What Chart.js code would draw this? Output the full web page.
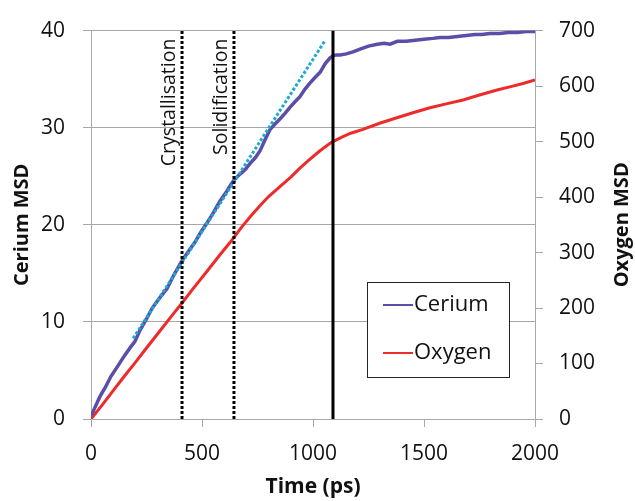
<!DOCTYPE html>
<html>
<head>
<meta charset="utf-8">
<script src="https://cdn.jsdelivr.net/npm/chart.js@4/dist/chart.umd.min.js"></script>
<style>
  html, body { margin: 0; padding: 0; background: #fff; }
  #wrap { width: 635px; height: 501px; }
</style>
</head>
<body>
<div id="wrap"><canvas id="chart" width="635" height="501"></canvas></div>
<script>
// Cerium / Oxygen MSD vs time

const timeTicks = [0, 500, 1000, 1500, 2000];
const ceriumTicks = [0, 10, 20, 30, 40];
const oxygenTicks = [0, 100, 200, 300, 400, 500, 600, 700];

const ceriumTime = [0, 20, 40, 63, 90, 122, 150, 175, 198, 220, 250, 275, 310, 342, 375, 410,
  440, 468, 491, 520, 550, 580, 610, 626, 644, 670, 695, 716, 740, 761, 785, 806, 830, 851, 875,
  896, 920, 941, 965, 986, 1010, 1032, 1055, 1077, 1090, 1105, 1122, 1150, 1180, 1212, 1250, 1290,
  1320, 1347, 1380, 1420, 1460, 1500, 1540, 1572, 1610, 1650, 1690, 1730, 1760, 1797, 1840, 1880,
  1920, 1960, 2000];
const ceriumMsd = [0.3, 1.3, 2.3, 3.2, 4.4, 5.5, 6.5, 7.3, 8.0, 9.1, 10.3, 11.4, 12.5, 13.4, 14.9, 16.3,
  17.3, 18.2, 19.1, 20.1, 21.2, 22.4, 23.4, 24.0, 24.6, 25.2, 25.7, 26.3, 26.9, 27.6, 28.8, 29.8, 30.4, 30.9, 31.5,
  32.1, 32.7, 33.2, 34.0, 34.6, 35.2, 35.7, 36.6, 37.2, 37.4, 37.5, 37.5, 37.6, 37.8, 38.1, 38.4, 38.6,
  38.7, 38.6, 38.9, 38.9, 39.0, 39.1, 39.2, 39.3, 39.3, 39.4, 39.5, 39.6, 39.6, 39.7, 39.7, 39.8,
  39.8, 39.9, 39.9];

const oxygenTime = [0, 50, 100, 150, 200, 250, 311, 360, 410, 460, 520, 581, 626, 660, 685, 720, 760,
  800, 851, 900, 941, 980, 1030, 1077, 1090, 1130, 1170, 1225, 1300, 1378, 1450, 1527, 1600, 1676,
  1750, 1829, 1900, 1950, 2000];
const oxygenMsd = [0, 25, 51, 77, 102, 128, 159, 184, 209, 235, 265, 296, 318, 336, 349, 366, 384,
  401, 419, 436, 452, 466, 483, 497, 500, 508, 515, 522, 533, 543, 552, 561, 568, 575,
  584, 593, 600, 605, 611];

// linear fit to the early cerium curve
const fitTime = [190, 1055];
const fitMsd = [8.3, 39.0];

// event markers (ps)
const eventNames = ['Crystallisation', 'Solidification'];
const eventTimes = [410, 644];
const meltTime = 1090;

const FONT = '"Open Sans", "DejaVu Sans", sans-serif';
const GRID = '#a8a8a8';
const CERIUM_COLOR = '#5a4ea8';
const OXYGEN_COLOR = '#ee2b2b';
const FIT_COLOR = '#1eaad0';

const toPoints = (xs, ys) => xs.map((x, i) => ({ x, y: ys[i] }));
const vLine = t => [{ x: t, y: 0 }, { x: t, y: 40 }];

const datasets = [
  { label: 'Oxygen', data: toPoints(oxygenTime, oxygenMsd), yAxisID: 'y2', borderColor: OXYGEN_COLOR, borderWidth: 3, order: 5 },
  { label: 'Cerium', data: toPoints(ceriumTime, ceriumMsd), yAxisID: 'y', borderColor: CERIUM_COLOR, borderWidth: 3.5, order: 4 },
  { label: 'fit', data: toPoints(fitTime, fitMsd), yAxisID: 'y', borderColor: FIT_COLOR, borderWidth: 3, borderDash: [3, 2], order: 3 },
  ...eventTimes.map(t => ({ label: 'event', data: vLine(t), yAxisID: 'y', borderColor: '#000', borderWidth: 3, borderDash: [3, 2], order: 2 })),
  { label: 'melt', data: vLine(meltTime), yAxisID: 'y', borderColor: '#000', borderWidth: 3, order: 1 }
];

// event labels, custom legend box and the right axis title
const overlayPlugin = {
  id: 'overlay',
  afterDraw(chart) {
    const ctx = chart.ctx;
    const x = chart.scales.x;
    const area = chart.chartArea;
    ctx.save();

    ctx.fillStyle = '#111';
    ctx.font = `19.5px ${FONT}`;
    ctx.textAlign = 'right';
    ctx.textBaseline = 'middle';
    eventNames.forEach((name, i) => {
      ctx.save();
      ctx.translate(x.getPixelForValue(eventTimes[i]) - 13, area.top + 8);
      ctx.rotate(-Math.PI / 2);
      ctx.fillText(name, 0, 0);
      ctx.restore();
    });

    // legend
    const box = { left: 367, top: 282, width: 142, height: 95 };
    ctx.fillStyle = '#fff';
    ctx.fillRect(box.left, box.top, box.width, box.height);
    ctx.strokeStyle = '#222';
    ctx.lineWidth = 1;
    ctx.strokeRect(box.left + 0.5, box.top + 0.5, box.width, box.height);
    const items = [['Cerium', CERIUM_COLOR, 305], ['Oxygen', OXYGEN_COLOR, 353]];
    ctx.font = `22px ${FONT}`;
    ctx.textAlign = 'left';
    items.forEach(([label, color, y]) => {
      ctx.strokeStyle = color;
      ctx.lineWidth = 2;
      ctx.beginPath();
      ctx.moveTo(383, y);
      ctx.lineTo(413, y);
      ctx.stroke();
      ctx.fillStyle = '#111';
      ctx.fillText(label, 414, y);
    });

    // right axis title reads bottom to top
    ctx.font = `bold 20px ${FONT}`;
    ctx.textAlign = 'center';
    ctx.save();
    ctx.translate(622, (area.top + area.bottom) / 2);
    ctx.rotate(-Math.PI / 2);
    ctx.fillText('Oxygen MSD', 0, 0);
    ctx.restore();

    ctx.restore();
  }
};

const tickFont = { family: FONT, size: 21 };
const plainLabel = v => String(v);

new Chart(document.getElementById('chart'), {
  type: 'line',
  data: { datasets },
  options: {
    responsive: false,
    animation: false,
    layout: { padding: { top: 25, left: 0, right: 0, bottom: 0 } },
    elements: { point: { radius: 0 }, line: { tension: 0, fill: false } },
    plugins: { legend: { display: false }, tooltip: { enabled: false } },
    scales: {
      x: {
        type: 'linear',
        min: 0,
        max: 2000,
        afterBuildTicks: s => { s.ticks = timeTicks.map(v => ({ value: v })); },
        afterFit: s => { s.height = 82; },
        ticks: { font: tickFont, color: '#111', padding: 14, maxRotation: 0, callback: plainLabel },
        grid: { drawOnChartArea: false, tickLength: 8, color: GRID },
        border: { color: GRID },
        title: { display: true, text: 'Time (ps)', font: { family: FONT, size: 21, weight: 'bold' }, color: '#111', padding: { top: 0, bottom: 1 } }
      },
      y: {
        position: 'left',
        min: 0,
        max: 40,
        afterBuildTicks: s => { s.ticks = ceriumTicks.map(v => ({ value: v })); },
        afterFit: s => { s.width = 91; },
        ticks: { font: tickFont, color: '#111', padding: 18, callback: plainLabel },
        grid: { tickLength: 8, color: GRID },
        border: { color: GRID },
        title: { display: true, text: 'Cerium MSD', font: { family: FONT, size: 20, weight: 'bold' }, color: '#111', padding: { top: 10, bottom: 0 } }
      },
      y2: {
        position: 'right',
        min: 0,
        max: 700,
        afterBuildTicks: s => { s.ticks = oxygenTicks.map(v => ({ value: v })); },
        afterFit: s => { s.width = 100; },
        ticks: { font: tickFont, color: '#111', padding: 16, callback: plainLabel },
        grid: { drawOnChartArea: false, tickLength: 8, color: GRID },
        border: { color: GRID }
      }
    }
  },
  plugins: [overlayPlugin]
});
</script>
</body>
</html>
